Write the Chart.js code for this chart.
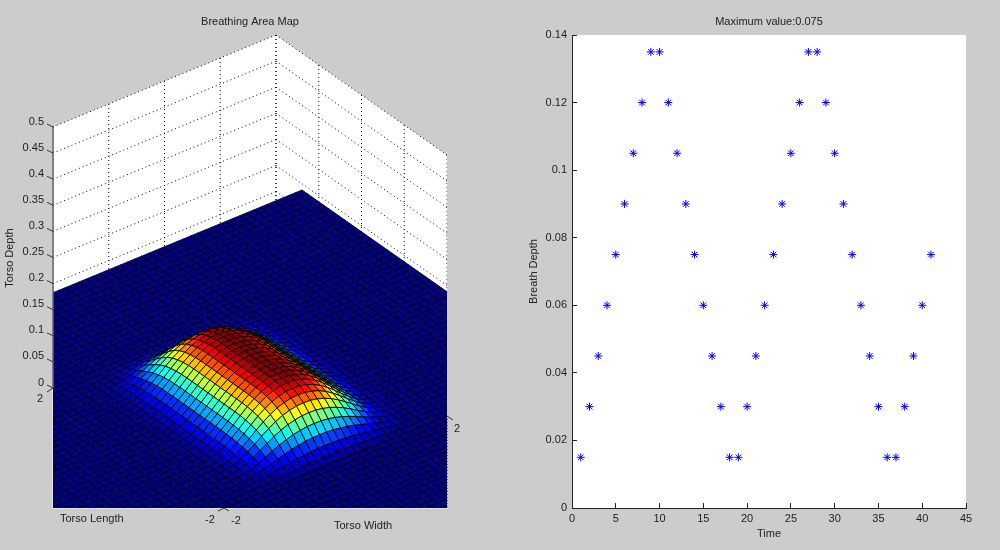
<!DOCTYPE html>
<html>
<head>
<meta charset="utf-8">
<script src="https://cdn.jsdelivr.net/npm/chart.js@4"></script>
<style>
html, body { margin: 0; padding: 0; background: #cccccc; }
body { width: 1000px; height: 550px; position: relative; overflow: hidden; }
canvas { position: absolute; top: 0; }
#mapChart { left: 0; }
#breathChart { left: 500px; }
</style>
</head>
<body>
<canvas id="mapChart" width="500" height="550"></canvas>
<canvas id="breathChart" width="500" height="550"></canvas>
<script>
// right panel
var time = [1,2,3,4,5,6,7,8,9,10,11,12,13,14,15,16,17,18,19,20,21,22,23,24,25,26,27,28,29,30,31,32,33,34,35,36,37,38,39,40,41];
var breathDepth = [0.015,0.03,0.045,0.06,0.075,0.09,0.105,0.12,0.135,0.135,0.12,0.105,0.09,0.075,0.06,0.045,0.03,0.015,0.015,0.03,0.045,0.06,0.075,0.09,0.105,0.12,0.135,0.135,0.12,0.105,0.09,0.075,0.06,0.045,0.03,0.015,0.015,0.03,0.045,0.06,0.075];
var timeTicks = [0,5,10,15,20,25,30,35,40,45];
var breathTicks = [0,0.02,0.04,0.06,0.08,0.1,0.12,0.14];

// left panel
var depthTicks = [0,0.05,0.1,0.15,0.2,0.25,0.3,0.35,0.4,0.45,0.5];
var depthTickLabels = ['0','0.05','0.1','0.15','0.2','0.25','0.3','0.35','0.4','0.45','0.5'];
var lengthTicks = [-2,-1,0,1,2];
var widthTicks = [-2,-1,0,1,2];

// surface runs over -4..4 on both axes, flat at zero outside the bump
var gridStep = 0.125;
var gridCount = 65;
var bumpFirstWidth = -1.75;
var bumpFirstLength = 2.25;
var depthMax = 0.09;
// torso depth x 10000, rows go from length 2.25 to -2.25, columns from width -1.75 to 1.75
var bumpDepth = [
[0,0,0,0,0,0,0,0,0,0,0,0,0,0,0,0,0,0,0,0,0,0,0,0,0,0,0,0,0],
[0,0,0,0,0,0,0,0,0,0,0,0,0,0,0,0,0,0,0,0,0,0,0,0,0,0,0,0,0],
[0,0,0,0,0,0,0,0,0,0,0,0,0,0,0,0,0,0,0,0,0,0,0,0,0,0,0,0,0],
[0,0,0,1,2,3,5,8,10,12,14,16,17,18,18,18,17,16,14,12,10,8,5,3,2,1,0,0,0],
[0,0,1,3,6,12,21,30,40,50,58,64,68,71,72,71,68,64,58,50,40,30,21,12,6,3,1,0,0],
[0,1,3,7,15,29,50,72,96,118,137,152,162,169,171,169,162,152,137,118,96,72,50,29,15,7,3,1,0],
[1,2,5,12,28,52,89,129,171,211,245,272,291,303,306,303,291,272,245,211,171,129,89,52,28,12,5,2,1],
[1,3,7,18,41,77,131,189,252,311,360,401,428,446,450,446,428,401,360,311,252,189,131,77,41,18,7,3,1],
[1,3,9,23,53,99,170,246,328,404,468,521,556,579,585,579,556,521,468,404,328,246,170,99,53,23,9,3,1],
[2,4,11,28,63,119,204,295,393,484,562,625,667,695,702,695,667,625,562,484,393,295,204,119,63,28,11,4,2],
[2,4,12,31,70,133,227,329,438,540,626,697,744,775,783,775,744,697,626,540,438,329,227,133,70,31,12,4,2],
[2,5,13,33,75,142,243,352,469,578,670,745,795,829,837,829,795,745,670,578,469,352,243,142,75,33,13,5,2],
[2,5,14,35,79,148,253,367,489,602,698,777,829,864,873,864,829,777,698,602,489,367,253,148,79,35,14,5,2],
[2,5,14,36,80,151,258,374,499,615,713,793,846,882,891,882,846,793,713,615,499,374,258,151,80,36,14,5,2],
[2,5,14,36,81,153,261,378,504,621,720,801,855,891,900,891,855,801,720,621,504,378,261,153,81,36,14,5,2],
[2,5,14,36,81,153,261,378,504,621,720,801,855,891,900,891,855,801,720,621,504,378,261,153,81,36,14,5,2],
[2,5,14,36,81,153,261,378,504,621,720,801,855,891,900,891,855,801,720,621,504,378,261,153,81,36,14,5,2],
[2,5,14,36,81,153,261,378,504,621,720,801,855,891,900,891,855,801,720,621,504,378,261,153,81,36,14,5,2],
[2,5,14,36,81,153,261,378,504,621,720,801,855,891,900,891,855,801,720,621,504,378,261,153,81,36,14,5,2],
[2,5,14,36,81,153,261,378,504,621,720,801,855,891,900,891,855,801,720,621,504,378,261,153,81,36,14,5,2],
[2,5,14,36,81,153,261,378,504,621,720,801,855,891,900,891,855,801,720,621,504,378,261,153,81,36,14,5,2],
[2,5,14,36,81,153,261,378,504,621,720,801,855,891,900,891,855,801,720,621,504,378,261,153,81,36,14,5,2],
[2,5,14,36,81,153,261,378,504,621,720,801,855,891,900,891,855,801,720,621,504,378,261,153,81,36,14,5,2],
[2,5,14,36,81,153,261,378,504,621,720,801,855,891,900,891,855,801,720,621,504,378,261,153,81,36,14,5,2],
[2,5,14,36,80,151,258,374,499,615,713,793,846,882,891,882,846,793,713,615,499,374,258,151,80,36,14,5,2],
[2,5,14,35,79,148,253,367,489,602,698,777,829,864,873,864,829,777,698,602,489,367,253,148,79,35,14,5,2],
[2,5,13,33,75,142,243,352,469,578,670,745,795,829,837,829,795,745,670,578,469,352,243,142,75,33,13,5,2],
[2,4,12,31,70,133,227,329,438,540,626,697,744,775,783,775,744,697,626,540,438,329,227,133,70,31,12,4,2],
[2,4,11,28,63,119,204,295,393,484,562,625,667,695,702,695,667,625,562,484,393,295,204,119,63,28,11,4,2],
[1,3,9,23,53,99,170,246,328,404,468,521,556,579,585,579,556,521,468,404,328,246,170,99,53,23,9,3,1],
[1,3,7,18,41,77,131,189,252,311,360,401,428,446,450,446,428,401,360,311,252,189,131,77,41,18,7,3,1],
[1,2,5,12,28,52,89,129,171,211,245,272,291,303,306,303,291,272,245,211,171,129,89,52,28,12,5,2,1],
[0,1,3,7,15,29,50,72,96,118,137,152,162,169,171,169,162,152,137,118,96,72,50,29,15,7,3,1,0],
[0,0,1,3,6,12,21,30,40,50,58,64,68,71,72,71,68,64,58,50,40,30,21,12,6,3,1,0,0],
[0,0,0,1,2,3,5,8,10,12,14,16,17,18,18,18,17,16,14,12,10,8,5,3,2,1,0,0,0],
[0,0,0,0,0,0,0,0,0,0,0,0,0,0,0,0,0,0,0,0,0,0,0,0,0,0,0,0,0],
[0,0,0,0,0,0,0,0,0,0,0,0,0,0,0,0,0,0,0,0,0,0,0,0,0,0,0,0,0]
];

var textFont = '11px "Liberation Sans"';
var textColor = '#222';

// fixed 3d view, gives a point in the units of the hidden x/y scales
function project(width, length, depth) {
	return {
		x: 55.75 * width - 42.75 * length,
		y: 23 * width + 30 * length + 522 * depth
	};
}

function depthAt(width, length) {
	var col = Math.round((width - bumpFirstWidth) / gridStep);
	var row = Math.round((bumpFirstLength - length) / gridStep);
	if (row < 0 || row >= bumpDepth.length || col < 0 || col >= bumpDepth[0].length) return 0;
	return bumpDepth[row][col] / 10000;
}

function jet(v) {
	var r = Math.min(Math.max(Math.min(4 * v - 1.5, 4.5 - 4 * v), 0), 1);
	var g = Math.min(Math.max(Math.min(4 * v - 0.5, 3.5 - 4 * v), 0), 1);
	var b = Math.min(Math.max(Math.min(4 * v + 0.5625, 2.5 - 4 * v), 0), 1);
	return 'rgb(' + Math.round(r * 255) + ',' + Math.round(g * 255) + ',' + Math.round(b * 255) + ')';
}

var gridLines = [];
function addGridLine(a, b) {
	gridLines.push({
		data: [a, b],
		showLine: true,
		pointRadius: 0,
		borderColor: '#000',
		borderWidth: 1,
		borderDash: [1, 3]
	});
}
depthTicks.forEach(function (d) {
	addGridLine(project(-2, 2, d), project(2, 2, d));
	addGridLine(project(2, 2, d), project(2, -2, d));
});
widthTicks.forEach(function (w) {
	addGridLine(project(w, 2, 0), project(w, 2, 0.5));
});
lengthTicks.forEach(function (l) {
	addGridLine(project(2, l, 0), project(2, l, 0.5));
});

var wallsPlugin = {
	id: 'walls',
	beforeDatasetsDraw: function (chart) {
		var ctx = chart.ctx;
		var sx = chart.scales.x, sy = chart.scales.y;
		var corners = [[-2, 2, 0], [-2, 2, 0.5], [2, 2, 0.5], [2, -2, 0.5], [2, -2, 0], [-2, -2, 0]];
		ctx.save();
		ctx.fillStyle = '#fff';
		ctx.beginPath();
		corners.forEach(function (c, i) {
			var p = project(c[0], c[1], c[2]);
			ctx.lineTo(sx.getPixelForValue(p.x), sy.getPixelForValue(p.y));
		});
		ctx.closePath();
		ctx.fill();
		ctx.restore();
	}
};

var surfacePlugin = {
	id: 'surface',
	afterDatasetsDraw: function (chart) {
		var ctx = chart.ctx;
		var area = chart.chartArea;
		var sx = chart.scales.x, sy = chart.scales.y;
		function px(w, l) {
			var p = project(w, l, depthAt(w, l));
			return [sx.getPixelForValue(p.x), sy.getPixelForValue(p.y)];
		}
		ctx.save();
		ctx.beginPath();
		ctx.rect(area.left, area.top, area.right - area.left, area.bottom - area.top);
		ctx.clip();
		ctx.strokeStyle = '#000';
		ctx.lineWidth = 0.85;
		// back corner first so the front cells cover it
		for (var i = gridCount - 2; i >= 0; i--) {
			for (var j = gridCount - 2; j >= 0; j--) {
				var w0 = -4 + i * gridStep, w1 = w0 + gridStep;
				var l0 = -4 + j * gridStep, l1 = l0 + gridStep;
				var a = px(w0, l0), b = px(w1, l0), c = px(w1, l1), d = px(w0, l1);
				ctx.fillStyle = jet(depthAt(w0, l0) / depthMax);
				ctx.beginPath();
				ctx.moveTo(a[0], a[1]);
				ctx.lineTo(b[0], b[1]);
				ctx.lineTo(c[0], c[1]);
				ctx.lineTo(d[0], d[1]);
				ctx.closePath();
				ctx.fill();
				ctx.stroke();
			}
		}
		ctx.restore();

		function pos(w, l, d) {
			var p = project(w, l, d);
			return [sx.getPixelForValue(p.x), sy.getPixelForValue(p.y)];
		}
		function seg(a, b) {
			ctx.beginPath();
			ctx.moveTo(a[0], a[1]);
			ctx.lineTo(b[0], b[1]);
			ctx.stroke();
		}
		ctx.save();
		// axis frame
		ctx.strokeStyle = '#e4e4e4';
		ctx.lineWidth = 1;
		seg([area.left - 0.5, pos(-2, 2, 0)[1]], [area.left - 0.5, area.bottom + 0.5]);
		seg([area.left - 0.5, area.bottom + 0.5], [area.right, area.bottom + 0.5]);
		ctx.strokeStyle = '#666';
		ctx.lineWidth = 1.5;
		seg(pos(-2, 2, 0.5), pos(-2, 2, 0));
		ctx.strokeStyle = 'rgba(0,0,0,0.6)';
		ctx.lineWidth = 1;
		seg(pos(-2, -2, 0), pos(2, -2, 0));
		ctx.strokeStyle = '#000';
		ctx.setLineDash([1, 2]);
		seg(pos(2, -2, 0), [area.right, area.bottom]);
		ctx.setLineDash([]);

		ctx.strokeStyle = '#333';
		ctx.font = textFont;
		ctx.fillStyle = textColor;
		ctx.textBaseline = 'middle';
		ctx.textAlign = 'right';
		depthTicks.forEach(function (d, i) {
			var p = pos(-2, 2, d);
			seg(p, [p[0] - 6, p[1] - 3]);
			ctx.fillText(depthTickLabels[i], p[0] - 9, p[1] - 5.5);
		});
		// corner ticks of the two floor axes
		var left = pos(-2, 2, 0), front = pos(-2, -2, 0), right = pos(2, -2, 0);
		seg(left, [left[0] - 6, left[1] + 4]);
		seg(front, [front[0] - 6, front[1] + 3]);
		seg(front, [front[0] + 5, front[1] + 3]);
		seg(right, [right[0] + 6, right[1] + 4]);
		ctx.textAlign = 'center';
		ctx.fillText('2', left[0] - 13, left[1] + 11);
		ctx.fillText('-2', front[0] - 14, front[1] + 12);
		ctx.fillText('-2', front[0] + 12, front[1] + 13);
		ctx.fillText('2', right[0] + 10, right[1] + 13);
		ctx.textAlign = 'left';
		ctx.fillText('Torso Length', 60, 519);
		ctx.fillText('Torso Width', 334, 526);
		ctx.translate(10, 258);
		ctx.rotate(-Math.PI / 2);
		ctx.textAlign = 'center';
		ctx.fillText('Torso Depth', 0, 0);
		ctx.restore();
	}
};

new Chart(document.getElementById('mapChart').getContext('2d'), {
	type: 'scatter',
	data: { datasets: gridLines },
	options: {
		responsive: false,
		animation: false,
		devicePixelRatio: 1,
		layout: { padding: { left: 53, right: 53, top: 15, bottom: 42 } },
		scales: {
			x: { display: false, min: -197, max: 197 },
			y: { display: false, min: -106, max: 367 }
		},
		plugins: {
			legend: { display: false },
			tooltip: { enabled: false },
			title: {
				display: true,
				text: 'Breathing Area Map',
				color: textColor,
				font: { family: 'Liberation Sans', size: 11, weight: 'normal' },
				padding: { top: 0, bottom: 6.8 }
			}
		}
	},
	plugins: [wallsPlugin, surfacePlugin]
});

var areaPlugin = {
	id: 'area',
	beforeDraw: function (chart) {
		var a = chart.chartArea;
		chart.ctx.fillStyle = '#fff';
		chart.ctx.fillRect(a.left, a.top, a.right - a.left, a.bottom - a.top);
	}
};

function tickFont() {
	return { family: 'Liberation Sans', size: 11 };
}

new Chart(document.getElementById('breathChart').getContext('2d'), {
	type: 'scatter',
	data: {
		datasets: [{
			data: time.map(function (t, i) { return { x: t, y: breathDepth[i] }; }),
			pointStyle: 'star',
			pointRadius: 4,
			borderColor: '#0000ff',
			backgroundColor: '#0000ff',
			borderWidth: 1
		}]
	},
	options: {
		responsive: false,
		animation: false,
		devicePixelRatio: 1,
		layout: { padding: { left: 27, right: 34, top: 15, bottom: 9 } },
		scales: {
			x: {
				type: 'linear',
				min: 0,
				max: 45,
				afterBuildTicks: function (s) { s.ticks = timeTicks.map(function (v) { return { value: v }; }); },
				afterFit: function (s) { s.height = 33; },
				ticks: { color: textColor, font: tickFont(), padding: 9, maxRotation: 0, autoSkip: false },
				grid: { drawOnChartArea: false, tickLength: -5, color: '#222' },
				border: { color: '#222' },
				title: { display: true, text: 'Time', color: textColor, font: tickFont(), padding: 0 }
			},
			y: {
				min: 0,
				max: 0.14,
				afterBuildTicks: function (s) { s.ticks = breathTicks.map(function (v) { return { value: v }; }); },
				afterFit: function (s) { s.width = 45; },
				ticks: {
					color: textColor,
					font: tickFont(),
					padding: 10,
					autoSkip: false,
					callback: function (v) { return String(+v.toFixed(2)); }
				},
				grid: { drawOnChartArea: false, tickLength: -5, color: '#222' },
				border: { color: '#222' },
				title: { display: true, text: 'Breath Depth', color: textColor, font: tickFont(), padding: 0 }
			}
		},
		plugins: {
			legend: { display: false },
			tooltip: { enabled: false },
			title: {
				display: true,
				text: 'Maximum value:0.075',
				color: textColor,
				fullSize: false,
				font: { family: 'Liberation Sans', size: 11, weight: 'normal' },
				padding: { top: 0, bottom: 6.8 }
			}
		}
	},
	plugins: [areaPlugin]
});
</script>
</body>
</html>
